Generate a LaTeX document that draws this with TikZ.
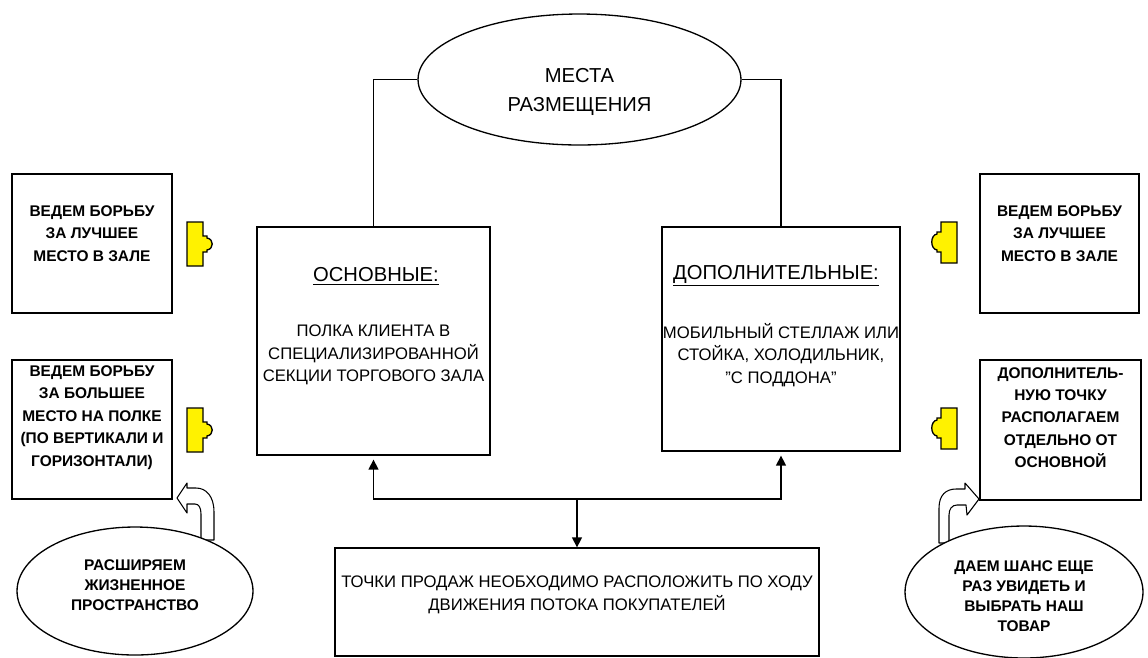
\documentclass[tikz,border=0pt]{standalone}
\usepackage{fontspec}
\setmainfont{Liberation Sans}
\usetikzlibrary{shapes.geometric,arrows.meta}

\tikzset{
  panel/.style={draw, line width=0.75pt, fill=white, inner sep=0pt},
  oval/.style={ellipse, draw, line width=0.75pt, fill=white, inner sep=0pt},
  wire/.style={line width=0.75pt},
  link/.style={line width=0.75pt, -{Triangle[length=0.2cm,width=0.2cm]}},
  tab/.style={draw, line width=0.75pt, fill=yellow, line join=miter},
  uturn/.style={draw, line width=0.6pt, fill=white, line join=round},
  body/.style={inner sep=0pt, align=center, font=\fontsize{9.5}{12.8}\selectfont},
  head/.style={inner sep=0pt, align=center, font=\fontsize{11.5}{14}\selectfont},
  side/.style={inner sep=0pt, align=center, font=\fontsize{8.8}{12.75}\selectfont\bfseries},
}
\newcommand\dq{\char"22\relax}

\begin{document}
\begin{tikzpicture}[x=0.02cm, y=-0.02cm]
\useasboundingbox (0,0) rectangle (1148,657);

% central title
\node[oval, minimum width=6.46cm, minimum height=2.62cm] (top) at (579.5,79.5) {};
\node[inner sep=0pt, align=center, font=\fontsize{11.5}{17}\selectfont] (toptxt) at (579.5,92) {МЕСТА\\РАЗМЕЩЕНИЯ};

% two kinds of placement
\node[panel, minimum width=4.66cm, minimum height=4.56cm] (lbox) at (373.5,341) {};
\node[panel, minimum width=4.76cm, minimum height=4.48cm] (rbox) at (781,339) {};
\node[head] (lhead) at (376,276) {\underline{ОСНОВНЫЕ:}};
\node[head] (rhead) at (776,276) {\underline{ДОПОЛНИТЕЛЬНЫЕ:}};
\node[body] (ltxt) at (373.5,355) {ПОЛКА КЛИЕНТА В\\СПЕЦИАЛИЗИРОВАННОЙ\\СЕКЦИИ ТОРГОВОГО ЗАЛА};
\node[body] (rtxt) at (781,355) {МОБИЛЬНЫЙ СТЕЛЛАЖ ИЛИ\\СТОЙКА, ХОЛОДИЛЬНИК,\\\dq С ПОДДОНА\dq};

\draw[wire] (top.west) -| (lbox.north);
\draw[wire] (top.east) -| (rbox.north);

% bottom statement
\node[panel, minimum width=9.68cm, minimum height=2.16cm] (bbox) at (577,602) {};
\node[body] (btxt) at (577,595) {ТОЧКИ ПРОДАЖ НЕОБХОДИМО РАСПОЛОЖИТЬ ПО ХОДУ\\ДВИЖЕНИЯ ПОТОКА ПОКУПАТЕЛЕЙ};

\coordinate (j) at (577,499);
\draw[link] (j) -- (bbox.north);
\draw[link, shorten >=0.08cm] (j) -| (lbox.south);
\draw[link, shorten >=0.08cm] (j) -| (rbox.south);

% side notes, left
\node[panel, minimum width=3.2cm, minimum height=2.78cm] (n1) at (92,243.5) {};
\node[side] (n1t) at (92,233.5) {ВЕДЕМ БОРЬБУ\\ЗА ЛУЧШЕЕ\\МЕСТО В ЗАЛЕ};
\node[panel, minimum width=3.2cm, minimum height=2.78cm] (n2) at (92,429.5) {};
\node[side] (n2t) at (92,417.5) {ВЕДЕМ БОРЬБУ\\ЗА БОЛЬШЕЕ\\МЕСТО НА ПОЛКЕ\\(ПО ВЕРТИКАЛИ И\\ГОРИЗОНТАЛИ)};

% side notes, right
\node[panel, minimum width=3.18cm, minimum height=2.78cm] (n3) at (1059.5,243.5) {};
\node[side] (n3t) at (1059.5,233.5) {ВЕДЕМ БОРЬБУ\\ЗА ЛУЧШЕЕ\\МЕСТО В ЗАЛЕ};
\node[panel, minimum width=3.22cm, minimum height=2.8cm] (n4) at (1060.5,430) {};
\node[side] (n4t) at (1060.5,417.5) {ДОПОЛНИТЕЛЬ-\\НУЮ ТОЧКУ\\РАСПОЛАГАЕМ\\ОТДЕЛЬНО ОТ\\ОСНОВНОЙ};

% yellow tabs pointing to the centre
\foreach \dy in {0,186} {
  \begin{scope}[shift={(0,\dy)}]
    \path[tab] (187,222) -- (203,222) -- (203,236) -- (207,236) -- (207,238)
      .. controls (214,239) and (214,249) .. (207,250) -- (207,252) -- (203,252)
      -- (203,266) -- (187,266) -- cycle;
    \path[tab] (957,222) -- (941,222) -- (941,232) -- (937,232) -- (937,234)
      .. controls (930,235) and (930,249) .. (937,250) -- (937,252) -- (941,252)
      -- (941,263) -- (957,263) -- cycle;
  \end{scope}
}

% turning arrows from the ovals
\path[uturn] (214,540) -- (214,512) .. controls (214,496) and (206,488) .. (196,488)
  -- (187,488) -- (187,483) -- (177,498) -- (187,513) -- (187,504) -- (195,504)
  .. controls (199,504) and (201,508) .. (201,514) -- (201,540) -- cycle;
\path[uturn] (939,543) -- (939,508) .. controls (939,495) and (946,489) .. (956,489)
  -- (965,489) -- (965,483) -- (979,499) -- (967,515) -- (966,505) -- (957,505)
  .. controls (952,505) and (949,509) .. (949,515) -- (949,543) -- cycle;

% ovals at the bottom corners
\node[oval, minimum width=4.72cm, minimum height=2.56cm] (e1) at (135,591) {};
\node[side, font=\fontsize{8.8}{11.5}\selectfont\bfseries] (e1t) at (135,585) {РАСШИРЯЕМ\\ЖИЗНЕННОЕ\\ПРОСТРАНСТВО};
\node[oval, minimum width=4.76cm, minimum height=2.64cm] (e2) at (1024,592) {};
\node[side, font=\fontsize{8.8}{11.5}\selectfont\bfseries] (e2t) at (1024,596) {ДАЕМ ШАНС ЕЩЕ\\РАЗ УВИДЕТЬ И\\ВЫБРАТЬ НАШ\\ТОВАР};
\end{tikzpicture}
\end{document}
